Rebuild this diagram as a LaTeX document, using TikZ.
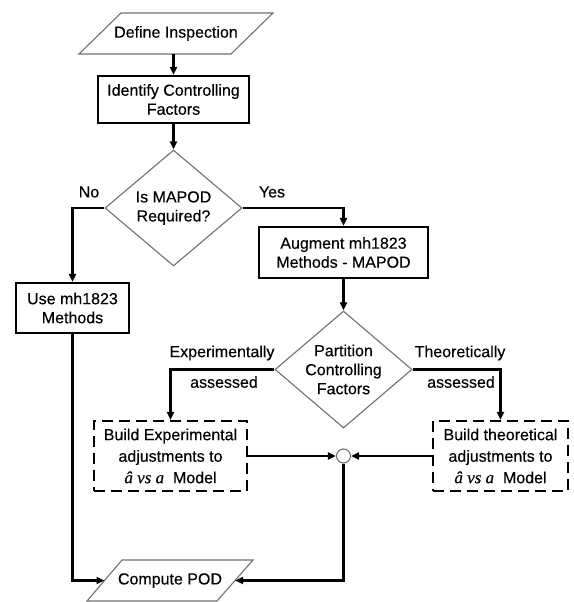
\documentclass[tikz,border=0pt]{standalone}
\usepackage{fontspec}
\setmainfont{Liberation Sans}[FakeBold=0.3]
\newfontfamily\serifit{Liberation Serif}[FakeBold=0.3]
\usetikzlibrary{shapes.geometric,arrows.meta,calc}
\definecolor{linegray}{HTML}{707070}
\begin{document}
\begin{tikzpicture}[x=1pt,y=1pt,
  every node/.style={font=\fontsize{16}{19}\selectfont, inner sep=0pt},
  thinshape/.style={draw=linegray, line width=1.1pt},
  procbox/.style={draw=black, line width=2.2pt, align=center},
  dashbox/.style={draw=black, line width=2.2pt, dash pattern=on 11pt off 6pt, align=center, font=\fontsize{16}{21.5}\selectfont},
  decision/.style={diamond, draw=linegray, line width=1.1pt, fill=white},
  conn/.style={line width=2.2pt, -{Triangle[length=8pt,width=7pt]}}
]
\useasboundingbox (0,0) rectangle (573,-602);

% Define Inspection (parallelogram)
\draw[thinshape] (79,-54) -- (121,-13) -- (273,-13) -- (231,-54) -- cycle;
\node[minimum height=41pt] (define) at (176,-33.5) {Define Inspection};

\node[procbox, minimum width=151pt, minimum height=47pt] (ident) at (173.5,-99.5) {Identify Controlling\\Factors};

\node[decision, minimum width=137pt, minimum height=116pt] (dec1) at (173.5,-208) {};
\node[align=center] (dec1t) at (dec1) {Is MAPOD\\Required?};

\node[procbox, minimum width=113pt, minimum height=50pt] (use) at (72.5,-308) {Use mh1823\\Methods};
\node[procbox, minimum width=169pt, minimum height=51pt] (aug) at (343.5,-252.5) {Augment mh1823\\Methods - MAPOD};

\node[decision, minimum width=137pt, minimum height=117pt] (dec2) at (343.5,-369.5) {};
\node[align=center] (dec2t) at (dec2) {Partition\\Controlling\\Factors};

\node[dashbox, minimum width=153pt, minimum height=70pt] (expbox) at (170.5,-456) {Build Experimental\\adjustments to\\{\serifit\itshape\fontsize{17}{21.5}\selectfont â vs a}\ \ Model};
\node[dashbox, minimum width=135pt, minimum height=70pt] (thbox) at (500.5,-456) {Build theoretical\\adjustments to\\{\serifit\itshape\fontsize{17}{21.5}\selectfont â vs a}\ \ Model};

\node[circle, draw=linegray, line width=1.1pt, fill=white, minimum size=14pt] (join) at (343.5,-456) {};

% Compute POD (parallelogram)
\draw[thinshape] (87,-601) -- (122,-560) -- (253,-560) -- (217,-601) -- cycle;
\node[minimum height=41pt] (compute) at (170,-580.5) {Compute POD};
\coordinate (compW) at (104.5,-580.5);
\coordinate (compE) at (235,-580.5);

% Connectors
\draw[conn] (define.south -| ident.north) -- (ident.north);
\draw[conn] (ident.south) -- (dec1.north);
\draw[conn] (dec1.west) -| (use.north);
\draw[conn] (dec1.east) -| (aug.north);
\draw[conn] (aug.south) -- (dec2.north);
\draw[conn] (dec2.west) -| (expbox.north);
\draw[conn] (dec2.east) -| (thbox.north);
\draw[conn] (expbox.east) -- (join.west);
\draw[conn] (thbox.west) -- (join.east);
\draw[conn] (join.south) |- (compE);
\draw[conn] (use.south) |- (compW);

% Labels
\node (no) at (89,-192) {No};
\node (yes) at (272,-192) {Yes};
\node (exp1) at (222,-353) {Experimentally};
\node (exp2) at (224,-382) {assessed};
\node (th1) at (460,-353) {Theoretically};
\node (th2) at (461,-382) {assessed};
\end{tikzpicture}
\end{document}
